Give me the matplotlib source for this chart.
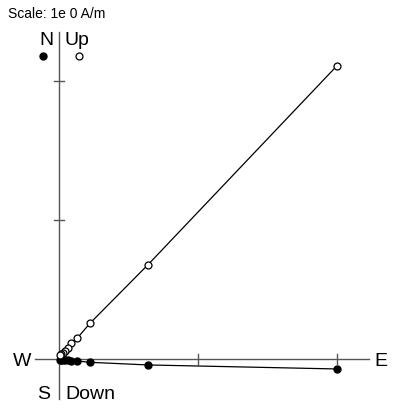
import matplotlib.pyplot as plt

# demagnetisation steps, components in A/m
east = [2.00, 0.638, 0.223, 0.132, 0.086, 0.062, 0.043, 0.027, 0.016, 0.008]
north = [-0.072, -0.043, -0.024, -0.015, -0.013, -0.011, -0.009, -0.008, -0.006, -0.005]
up = [2.11, 0.676, 0.257, 0.151, 0.113, 0.079, 0.058, 0.045, 0.035, 0.027]
tick_vals = [1, 2]
scale_text = "Scale: 1e 0 A/m"

plt.rcParams['font.family'] = ['Liberation Sans', 'DejaVu Sans']

fig = plt.figure(figsize=(3.95, 4.10), dpi=100)
ax = fig.add_axes([0, 0, 1, 1])
ax.set_xlim(-0.4245, 2.417)
ax.set_ylim(-0.36, 2.59)
ax.axis('off')

axis_col = '#555555'
# cross axes
ax.plot([-0.17, 2.23], [0, 0], color=axis_col, lw=1.0, zorder=1)
ax.plot([0, 0], [-0.29, 2.35], color=axis_col, lw=1.0, zorder=1)
tl = 0.035
for t in tick_vals:
    ax.plot([t, t], [-tl, tl], color=axis_col, lw=1.0, zorder=1)
    ax.plot([-tl, tl], [t, t], color=axis_col, lw=1.0, zorder=1)

# horizontal projection (filled) and vertical projection (open)
ax.plot(east, north, color='black', lw=0.9, marker='o', ms=5,
        mfc='black', mec='black', zorder=3)
ax.plot(east, up, color='black', lw=0.9, marker='o', ms=5,
        mfc='white', mec='black', mew=0.9, zorder=3)

# axis labels
ax.text(-0.094, 2.302, "N", fontsize=14, ha='center', va='center')
ax.text(0.043, 2.302, "Up", fontsize=14, ha='left', va='center')
ax.text(-0.266, -0.01, "W", fontsize=14, ha='center', va='center')
ax.text(2.317, -0.01, "E", fontsize=14, ha='center', va='center')
ax.text(-0.108, -0.252, "S", fontsize=14, ha='center', va='center')
ax.text(0.043, -0.252, "Down", fontsize=14, ha='left', va='center')

# symbol key
ax.plot([-0.115], [2.18], 'o', ms=5, mfc='black', mec='black')
ax.plot([0.144], [2.18], 'o', ms=5, mfc='white', mec='black', mew=0.9)

fig.text(8 / 395, 1 - 14 / 410, scale_text, fontsize=10, ha='left', va='center')

fig.savefig('out.png', dpi=100)
